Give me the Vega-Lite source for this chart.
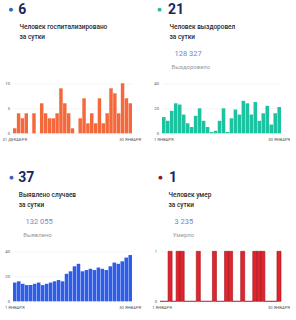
{
  "$schema": "https://vega.github.io/schema/vega-lite/v6.json",
  "background": "white",
  "padding": {"left": 1, "top": 2.3, "right": 0, "bottom": 0},
  "config": {
    "font": "Roboto",
    "view": {"stroke": null},
    "axis": {"labelFont": "Roboto", "labelFontSize": 4.2, "labelColor": "#555555", "ticks": false, "domain": false, "gridColor": "#ececec", "gridWidth": 0.6, "titleFont": "Roboto"},
    "axisX": {"grid": false, "labelPadding": 4.7, "labelAngle": 0, "labelOverlap": false, "labelBound": false},
    "axisY": {"labelPadding": 3.5, "labelBaseline": "middle", "format": "d"},
    "title": {"font": "Roboto", "fontSize": 14, "fontWeight": "bold", "color": "#17275e", "anchor": "start", "frame": "group", "baseline": "alphabetic"}
  },
  "datasets": {
    "hosp": [
      {"date": "31 ДЕКАБРЯ", "value": 1}, {"date": "1 ЯНВАРЯ", "value": 4}, {"date": "2 ЯНВАРЯ", "value": 3}, {"date": "3 ЯНВАРЯ", "value": 4}, {"date": "4 ЯНВАРЯ", "value": 0}, {"date": "5 ЯНВАРЯ", "value": 4}, {"date": "6 ЯНВАРЯ", "value": 0}, {"date": "7 ЯНВАРЯ", "value": 6}, {"date": "8 ЯНВАРЯ", "value": 4}, {"date": "9 ЯНВАРЯ", "value": 3}, {"date": "10 ЯНВАРЯ", "value": 3}, {"date": "11 ЯНВАРЯ", "value": 4}, {"date": "12 ЯНВАРЯ", "value": 9}, {"date": "13 ЯНВАРЯ", "value": 6}, {"date": "14 ЯНВАРЯ", "value": 4}, {"date": "15 ЯНВАРЯ", "value": 1}, {"date": "16 ЯНВАРЯ", "value": 0}, {"date": "17 ЯНВАРЯ", "value": 3}, {"date": "18 ЯНВАРЯ", "value": 7}, {"date": "19 ЯНВАРЯ", "value": 2}, {"date": "20 ЯНВАРЯ", "value": 4}, {"date": "21 ЯНВАРЯ", "value": 2}, {"date": "22 ЯНВАРЯ", "value": 7}, {"date": "23 ЯНВАРЯ", "value": 2}, {"date": "24 ЯНВАРЯ", "value": 4}, {"date": "25 ЯНВАРЯ", "value": 9}, {"date": "26 ЯНВАРЯ", "value": 8}, {"date": "27 ЯНВАРЯ", "value": 4}, {"date": "28 ЯНВАРЯ", "value": 10}, {"date": "29 ЯНВАРЯ", "value": 7}, {"date": "30 ЯНВАРЯ", "value": 6}
    ],
    "recov": [
      {"date": "1 ЯНВАРЯ", "value": 13}, {"date": "2 ЯНВАРЯ", "value": 10}, {"date": "3 ЯНВАРЯ", "value": 18}, {"date": "4 ЯНВАРЯ", "value": 24}, {"date": "5 ЯНВАРЯ", "value": 23}, {"date": "6 ЯНВАРЯ", "value": 15}, {"date": "7 ЯНВАРЯ", "value": 8}, {"date": "8 ЯНВАРЯ", "value": 5}, {"date": "9 ЯНВАРЯ", "value": 14}, {"date": "10 ЯНВАРЯ", "value": 20}, {"date": "11 ЯНВАРЯ", "value": 10}, {"date": "12 ЯНВАРЯ", "value": 5}, {"date": "13 ЯНВАРЯ", "value": 1}, {"date": "14 ЯНВАРЯ", "value": 2}, {"date": "15 ЯНВАРЯ", "value": 10}, {"date": "16 ЯНВАРЯ", "value": 20}, {"date": "17 ЯНВАРЯ", "value": 1}, {"date": "18 ЯНВАРЯ", "value": 12}, {"date": "19 ЯНВАРЯ", "value": 19}, {"date": "20 ЯНВАРЯ", "value": 15}, {"date": "21 ЯНВАРЯ", "value": 26}, {"date": "22 ЯНВАРЯ", "value": 24}, {"date": "23 ЯНВАРЯ", "value": 15}, {"date": "24 ЯНВАРЯ", "value": 25}, {"date": "25 ЯНВАРЯ", "value": 10}, {"date": "26 ЯНВАРЯ", "value": 16}, {"date": "27 ЯНВАРЯ", "value": 22}, {"date": "28 ЯНВАРЯ", "value": 7}, {"date": "29 ЯНВАРЯ", "value": 16}, {"date": "30 ЯНВАРЯ", "value": 21}
    ],
    "cases": [
      {"date": "1 ЯНВАРЯ", "value": 15}, {"date": "2 ЯНВАРЯ", "value": 16}, {"date": "3 ЯНВАРЯ", "value": 14}, {"date": "4 ЯНВАРЯ", "value": 13}, {"date": "5 ЯНВАРЯ", "value": 13}, {"date": "6 ЯНВАРЯ", "value": 14}, {"date": "7 ЯНВАРЯ", "value": 15}, {"date": "8 ЯНВАРЯ", "value": 13}, {"date": "9 ЯНВАРЯ", "value": 14}, {"date": "10 ЯНВАРЯ", "value": 15}, {"date": "11 ЯНВАРЯ", "value": 16}, {"date": "12 ЯНВАРЯ", "value": 17}, {"date": "13 ЯНВАРЯ", "value": 16}, {"date": "14 ЯНВАРЯ", "value": 22}, {"date": "15 ЯНВАРЯ", "value": 24}, {"date": "16 ЯНВАРЯ", "value": 28}, {"date": "17 ЯНВАРЯ", "value": 30}, {"date": "18 ЯНВАРЯ", "value": 24}, {"date": "19 ЯНВАРЯ", "value": 25}, {"date": "20 ЯНВАРЯ", "value": 26}, {"date": "21 ЯНВАРЯ", "value": 25}, {"date": "22 ЯНВАРЯ", "value": 27}, {"date": "23 ЯНВАРЯ", "value": 26}, {"date": "24 ЯНВАРЯ", "value": 25}, {"date": "25 ЯНВАРЯ", "value": 28}, {"date": "26 ЯНВАРЯ", "value": 31}, {"date": "27 ЯНВАРЯ", "value": 30}, {"date": "28 ЯНВАРЯ", "value": 32}, {"date": "29 ЯНВАРЯ", "value": 35}, {"date": "30 ЯНВАРЯ", "value": 37}
    ],
    "deaths": [
      {"date": "1 ЯНВАРЯ", "value": 0}, {"date": "2 ЯНВАРЯ", "value": 0}, {"date": "3 ЯНВАРЯ", "value": 1}, {"date": "4 ЯНВАРЯ", "value": 0}, {"date": "5 ЯНВАРЯ", "value": 1}, {"date": "6 ЯНВАРЯ", "value": 1}, {"date": "7 ЯНВАРЯ", "value": 0}, {"date": "8 ЯНВАРЯ", "value": 0}, {"date": "9 ЯНВАРЯ", "value": 0}, {"date": "10 ЯНВАРЯ", "value": 1}, {"date": "11 ЯНВАРЯ", "value": 0}, {"date": "12 ЯНВАРЯ", "value": 0}, {"date": "13 ЯНВАРЯ", "value": 0}, {"date": "14 ЯНВАРЯ", "value": 1}, {"date": "15 ЯНВАРЯ", "value": 0}, {"date": "16 ЯНВАРЯ", "value": 0}, {"date": "17 ЯНВАРЯ", "value": 1}, {"date": "18 ЯНВАРЯ", "value": 1}, {"date": "19 ЯНВАРЯ", "value": 0}, {"date": "20 ЯНВАРЯ", "value": 0}, {"date": "21 ЯНВАРЯ", "value": 1}, {"date": "22 ЯНВАРЯ", "value": 0}, {"date": "23 ЯНВАРЯ", "value": 0}, {"date": "24 ЯНВАРЯ", "value": 1}, {"date": "25 ЯНВАРЯ", "value": 1}, {"date": "26 ЯНВАРЯ", "value": 1}, {"date": "27 ЯНВАРЯ", "value": 0}, {"date": "28 ЯНВАРЯ", "value": 0}, {"date": "29 ЯНВАРЯ", "value": 0}, {"date": "30 ЯНВАРЯ", "value": 1}
    ]
  },
  "bounds": "flush",
  "spacing": 168,
  "vconcat": [
    {
      "bounds": "flush",
      "spacing": 30,
      "hconcat": [
        {
          "width": 119, "height": 50,
          "data": {"name": "hosp"},
          "title": {"text": "6", "dx": 5.3, "offset": -9.7},
          "mark": {"type": "bar", "color": "#f4683c"},
          "encoding": {
            "x": {"field": "date", "type": "ordinal", "sort": null, "scale": {"paddingInner": 0.1, "paddingOuter": 0},
              "axis": {"values": ["31 ДЕКАБРЯ", "30 ЯНВАРЯ"], "title": ["Человек госпитализировано", "за сутки"], "titleX": 6, "titleY": -109.5, "titleAlign": "left", "titleBaseline": "top", "titleAngle": 0, "titleFontSize": 6.5, "titleFontWeight": 500, "titleColor": "#2a2a2a", "titleLineHeight": 9.6}},
            "y": {"field": "value", "type": "quantitative", "scale": {"domain": [0, 10]},
              "axis": {"values": [0, 5, 10], "title": "●", "titleFont": "DejaVu Sans", "titleX": -2.5, "titleY": -74.3, "titleAlign": "center", "titleBaseline": "middle", "titleAngle": 0, "titleFontSize": 5, "titleColor": "#4262ad"}}
          }
        },
        {
          "width": 119, "height": 50,
          "data": {"name": "recov"},
          "title": {"text": "21", "dx": 6, "offset": -9.7},
          "layer": [
            {
              "mark": {"type": "bar", "color": "#1dc2a0"},
              "encoding": {
                "x": {"field": "date", "type": "ordinal", "sort": null, "scale": {"paddingInner": 0.1, "paddingOuter": 0},
                  "axis": {"values": ["1 ЯНВАРЯ", "30 ЯНВАРЯ"], "title": ["Человек выздоровел", "за сутки"], "titleX": 7, "titleY": -109.5, "titleAlign": "left", "titleBaseline": "top", "titleAngle": 0, "titleFontSize": 6.5, "titleFontWeight": 500, "titleColor": "#2a2a2a", "titleLineHeight": 9.6}},
                "y": {"field": "value", "type": "quantitative", "scale": {"domain": [0, 40]},
                  "axis": {"values": [0, 20, 40], "title": "●", "titleFont": "DejaVu Sans", "titleX": -3, "titleY": -74.3, "titleAlign": "center", "titleBaseline": "middle", "titleAngle": 0, "titleFontSize": 5, "titleColor": "#2bb89b"}}
              }
            },
            {
              "mark": {"type": "bar", "opacity": 0},
              "encoding": {
                "x": {"field": "date", "type": "ordinal", "sort": null,
                  "axis": {"orient": "top", "labels": false, "grid": false, "title": "Выздоровело", "titleX": 9, "titleY": -16.7, "titleAlign": "left", "titleBaseline": "middle", "titleAngle": 0, "titleFontSize": 6, "titleFontWeight": "normal", "titleColor": "#9a9a9a"}},
                "y": {"field": "value", "type": "quantitative",
                  "axis": {"orient": "right", "labels": false, "grid": false, "title": "128 327", "titleX": -107, "titleY": -30, "titleAlign": "left", "titleBaseline": "middle", "titleAngle": 0, "titleFontSize": 7.5, "titleFontWeight": "normal", "titleColor": "#6f8ac4"}}
              }
            }
          ],
          "resolve": {"axis": {"x": "independent", "y": "independent"}}
        }
      ]
    },
    {
      "bounds": "flush",
      "spacing": 28,
      "hconcat": [
        {
          "width": 119, "height": 50,
          "data": {"name": "cases"},
          "title": {"text": "37", "dx": 5.3, "offset": -9.7},
          "layer": [
            {
              "mark": {"type": "bar", "color": "#2f5de8"},
              "encoding": {
                "x": {"field": "date", "type": "ordinal", "sort": null, "scale": {"paddingInner": 0.1, "paddingOuter": 0},
                  "axis": {"values": ["1 ЯНВАРЯ", "30 ЯНВАРЯ"], "title": ["Выявлено случаев", "за сутки"], "titleX": 5.3, "titleY": -109.5, "titleAlign": "left", "titleBaseline": "top", "titleAngle": 0, "titleFontSize": 6.5, "titleFontWeight": 500, "titleColor": "#2a2a2a", "titleLineHeight": 9.6}},
                "y": {"field": "value", "type": "quantitative", "scale": {"domain": [0, 40]},
                  "axis": {"values": [0, 20, 40], "title": "●", "titleFont": "DejaVu Sans", "titleX": -2, "titleY": -74.3, "titleAlign": "center", "titleBaseline": "middle", "titleAngle": 0, "titleFontSize": 5, "titleColor": "#4262ad"}}
              }
            },
            {
              "mark": {"type": "bar", "opacity": 0},
              "encoding": {
                "x": {"field": "date", "type": "ordinal", "sort": null,
                  "axis": {"orient": "top", "labels": false, "grid": false, "title": "Выявлено", "titleX": 9.7, "titleY": -16.7, "titleAlign": "left", "titleBaseline": "middle", "titleAngle": 0, "titleFontSize": 6, "titleFontWeight": "normal", "titleColor": "#9a9a9a"}},
                "y": {"field": "value", "type": "quantitative",
                  "axis": {"orient": "right", "labels": false, "grid": false, "title": "132 055", "titleX": -107, "titleY": -30, "titleAlign": "left", "titleBaseline": "middle", "titleAngle": 0, "titleFontSize": 7.5, "titleFontWeight": "normal", "titleColor": "#6f8ac4"}}
              }
            }
          ],
          "resolve": {"axis": {"x": "independent", "y": "independent"}}
        },
        {
          "width": 121, "height": 50,
          "data": {"name": "deaths"},
          "title": {"text": "1", "dx": 9, "offset": -9.7},
          "layer": [
            {
              "mark": {"type": "bar", "color": "#e1252d", "stroke": "#a0101a", "strokeWidth": 0.6},
              "encoding": {
                "x": {"field": "date", "type": "ordinal", "sort": null, "scale": {"paddingInner": 0, "paddingOuter": 0},
                  "axis": {"values": ["1 ЯНВАРЯ", "30 ЯНВАРЯ"], "title": ["Человек умер", "за сутки"], "titleX": 8, "titleY": -109.5, "titleAlign": "left", "titleBaseline": "top", "titleAngle": 0, "titleFontSize": 6.5, "titleFontWeight": 500, "titleColor": "#2a2a2a", "titleLineHeight": 9.6}},
                "y": {"field": "value", "type": "quantitative", "scale": {"domain": [0, 1]},
                  "axis": {"values": [0, 1], "title": "●", "titleFont": "DejaVu Sans", "titleX": 0, "titleY": -74.3, "titleAlign": "center", "titleBaseline": "middle", "titleAngle": 0, "titleFontSize": 5, "titleColor": "#8e1a2e"}}
              }
            },
            {
              "mark": {"type": "bar", "opacity": 0},
              "encoding": {
                "x": {"field": "date", "type": "ordinal", "sort": null,
                  "axis": {"orient": "top", "labels": false, "grid": false, "title": "Умерло", "titleX": 12.3, "titleY": -16.7, "titleAlign": "left", "titleBaseline": "middle", "titleAngle": 0, "titleFontSize": 6, "titleFontWeight": "normal", "titleColor": "#9a9a9a"}},
                "y": {"field": "value", "type": "quantitative",
                  "axis": {"orient": "right", "labels": false, "grid": false, "title": "3 235", "titleX": -107, "titleY": -30, "titleAlign": "left", "titleBaseline": "middle", "titleAngle": 0, "titleFontSize": 7.5, "titleFontWeight": "normal", "titleColor": "#6f8ac4"}}
              }
            }
          ],
          "resolve": {"axis": {"x": "independent", "y": "independent"}}
        }
      ]
    }
  ]
}
